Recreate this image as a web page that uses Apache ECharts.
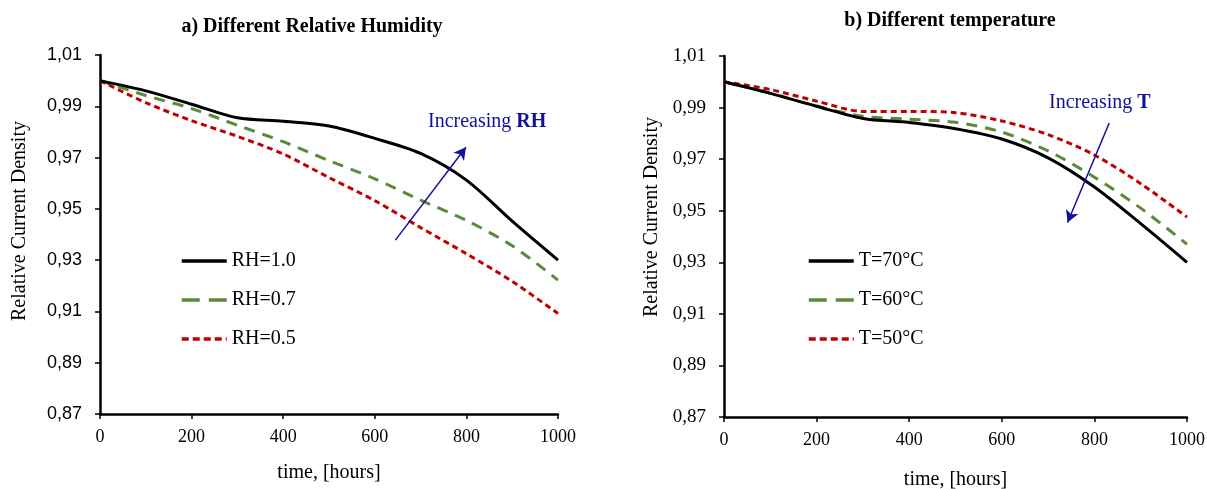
<!DOCTYPE html>
<html>
<head>
<meta charset="utf-8">
<script src="https://cdn.jsdelivr.net/npm/echarts@6/dist/echarts.min.js"></script>
<style>
  html, body { margin: 0; padding: 0; background: #fff; }
  #chart { width: 1207px; height: 489px; }
</style>
</head>
<body>
<div id="chart"></div>
<script>
// time axis, hours
const timeHours = [0, 100, 200, 300, 400, 500, 600, 700, 800, 900, 1000];

// a) different relative humidity
const rh10 = [1.000, 0.9960, 0.9908, 0.9855, 0.9842, 0.9823, 0.9775, 0.9716, 0.9612, 0.9452, 0.9300];
const rh07 = [1.000, 0.9942, 0.9891, 0.9826, 0.9762, 0.9688, 0.9617, 0.9534, 0.9455, 0.9356, 0.9222];
const rh05 = [1.000, 0.9914, 0.9844, 0.9783, 0.9714, 0.9622, 0.9532, 0.9427, 0.9325, 0.9217, 0.9092];

// b) different temperature
const t70 = [1.000, 0.9955, 0.9905, 0.9858, 0.9842, 0.9818, 0.9778, 0.9705, 0.9592, 0.9450, 0.9300];
const t60 = [1.000, 0.9956, 0.9906, 0.9866, 0.9855, 0.9843, 0.9805, 0.9732, 0.9630, 0.9510, 0.9370];
const t50 = [1.000, 0.9970, 0.9925, 0.9885, 0.9885, 0.9880, 0.9848, 0.9795, 0.9716, 0.9605, 0.9475];

// annotation arrows [start, end] in data units
const arrowRH = [[645, 0.9378], [799, 0.9740]];
const arrowT = [[832, 0.9840], [742, 0.9454]];

const serif = 'Liberation Serif';
const blue = '#10109a';
const green = '#5a8a3a';
const red = '#c00000';

const chart = echarts.init(document.getElementById('chart'));

function pairs(ys) {
  return timeHours.map((t, i) => [t, ys[i]]);
}

function xAxisCfg(gridIndex, gap) {
  return {
    type: 'value', gridIndex: gridIndex, min: 0, max: 1000, interval: 200,
    name: 'time, [hours]', nameLocation: 'middle', nameGap: gap,
    nameTextStyle: { fontFamily: serif, fontSize: 20, color: '#000' },
    axisLine: { lineStyle: { color: '#000', width: 2.5 } },
    axisTick: { show: true, inside: false, length: 5, lineStyle: { color: '#000', width: 1.5 } },
    axisLabel: { fontFamily: serif, fontSize: 18, color: '#000', margin: 14, formatter: v => String(v) },
    splitLine: { show: false }
  };
}

function yAxisCfg(gridIndex, labelFont, size) {
  return {
    type: 'value', gridIndex: gridIndex, min: 0.87, max: 1.01, interval: 0.02,
    axisLine: { show: true, lineStyle: { color: '#000', width: 2.5 } },
    axisTick: { show: true, inside: false, length: 5, lineStyle: { color: '#000', width: 1.5 } },
    axisLabel: {
      fontFamily: labelFont, fontSize: size, color: '#000', margin: 18,
      formatter: v => v.toFixed(2).replace('.', ',')
    },
    splitLine: { show: false }
  };
}

function lineSeries(name, ys, idx, color, dash) {
  return {
    name: name, type: 'line', xAxisIndex: idx, yAxisIndex: idx,
    data: pairs(ys), smooth: 0.3, symbol: 'none',
    lineStyle: { color: color, width: 3, type: dash },
    itemStyle: { color: color },
    z: dash === 'solid' ? 3 : 2
  };
}

function arrow(a) {
  return {
    silent: true, animation: false,
    symbol: ['none', 'arrow'], symbolSize: [10, 12],
    label: { show: false },
    lineStyle: { color: blue, width: 1.5, type: 'solid' },
    data: [[{ coord: a[0] }, { coord: a[1] }]]
  };
}

function legendCfg(names, left) {
  const styles = [
    { color: '#000', width: 3.5, type: 'solid' },
    { color: green, width: 3.5, type: [18, 9] },
    { color: red, width: 3.5, type: [7, 4] }
  ];
  return {
    data: names.map((n, i) => ({ name: n, lineStyle: styles[i] })),
    orient: 'vertical', left: left, top: 246,
    itemWidth: 45, itemHeight: 14, itemGap: 19,
    itemStyle: { opacity: 0 },
    textStyle: { fontFamily: serif, fontSize: 20, color: '#000' }
  };
}

function note(x, y, plain, bold) {
  return {
    type: 'text', silent: true,
    style: {
      x: x, y: y, textVerticalAlign: 'middle',
      text: '{n|' + plain + '}{b|' + bold + '}',
      rich: {
        n: { fontFamily: serif, fontSize: 20, fill: blue },
        b: { fontFamily: serif, fontSize: 20, fontWeight: 'bold', fill: blue }
      }
    }
  };
}

function label(x, y, text, font, rot) {
  return {
    type: 'text', silent: true, x: x, y: y, rotation: rot || 0,
    style: { x: 0, y: 0, text: text, textAlign: 'center', textVerticalAlign: 'middle', font: font, fill: '#000' }
  };
}

const s1 = lineSeries('RH=1.0', rh10, 0, '#000000', 'solid');
s1.markLine = arrow(arrowRH);
const s4 = lineSeries('T=70°C', t70, 1, '#000000', 'solid');
s4.markLine = arrow(arrowT);

const options = {
  animation: false,
  grid: [
    { left: 100, right: 649, top: 55, bottom: 75, outerBoundsMode: 'none' },
    { left: 724, right: 20, top: 56, bottom: 72, outerBoundsMode: 'none' }
  ],
  xAxis: [xAxisCfg(0, 49), xAxisCfg(1, 53)],
  yAxis: [yAxisCfg(0, 'Liberation Sans', 18), yAxisCfg(1, serif, 19)],
  legend: [
    legendCfg(['RH=1.0', 'RH=0.7', 'RH=0.5'], 175),
    legendCfg(['T=70°C', 'T=60°C', 'T=50°C'], 802)
  ],
  graphic: [
    label(312, 27, 'a) Different Relative Humidity', 'bold 20px "Liberation Serif"'),
    label(950, 21, 'b) Different temperature', 'bold 20px "Liberation Serif"'),
    label(20, 221, 'Relative Current Density', '20px "Liberation Serif"', Math.PI / 2),
    label(652, 217, 'Relative Current Density', '20px "Liberation Serif"', Math.PI / 2),
    note(428, 122, 'Increasing ', 'RH'),
    note(1049, 103, 'Increasing ', 'T')
  ],
  series: [
    s1,
    lineSeries('RH=0.7', rh07, 0, green, [11, 8]),
    lineSeries('RH=0.5', rh05, 0, red, [6, 4]),
    s4,
    lineSeries('T=60°C', t60, 1, green, [11, 8]),
    lineSeries('T=50°C', t50, 1, red, [6, 4])
  ]
};

chart.setOption(options);
</script>
</body>
</html>
